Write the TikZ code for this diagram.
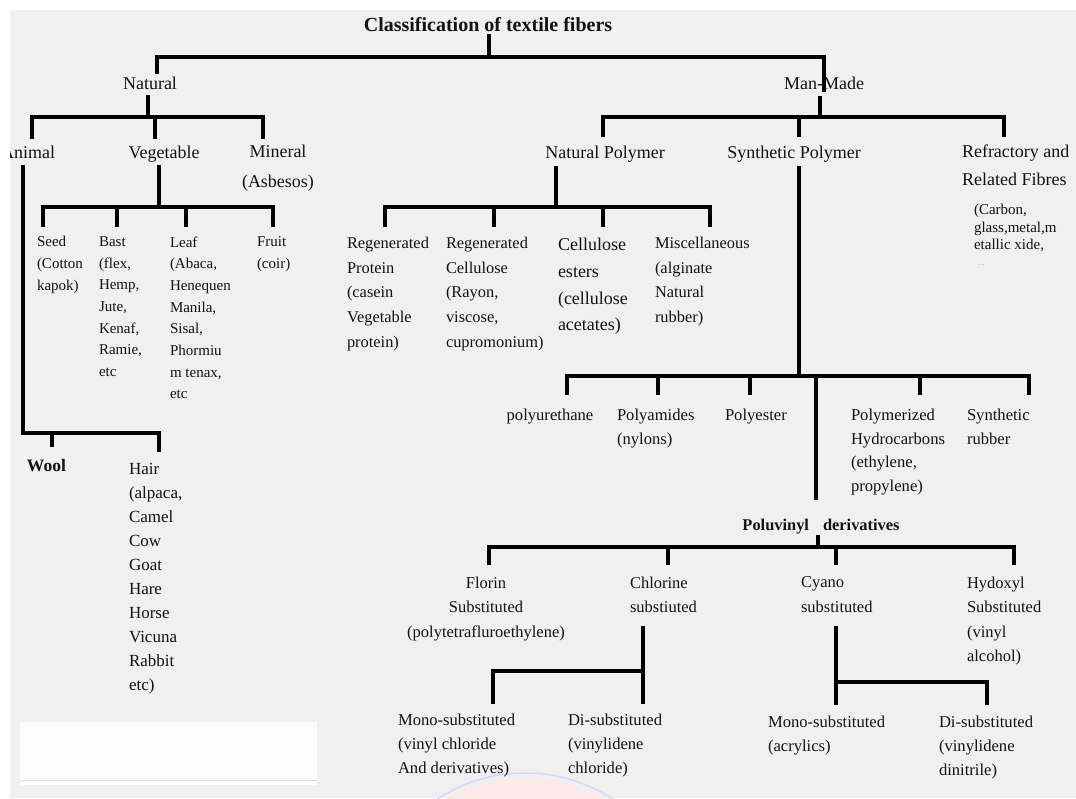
\documentclass[tikz,border=0pt]{standalone}
\usepackage{fontspec}
\setmainfont{Liberation Serif}
\definecolor{bg}{RGB}{240,240,240}
\definecolor{ink}{RGB}{18,18,18}
\newcommand{\myfs}[2]{\fontsize{#1}{#2}\selectfont}
\tikzset{
  conn/.style={draw=black, line width=3.2pt, line cap=rect, line join=miter},
  lbl/.style={inner sep=0pt, outer sep=0pt, text=ink, align=left, anchor=north west},
  one/.style={inner sep=0pt, outer sep=0pt, text=ink, anchor=base},
  big/.style={font=\myfs{18}{22}},
  vegf/.style={font=\myfs{15}{21.7}},
  npf/.style={font=\myfs{16.4}{24.75}},
  synf/.style={font=\myfs{16.6}{23.5}},
  pvf/.style={font=\myfs{16.5}{24.5}},
  botf/.style={font=\myfs{16.6}{24}},
}
\begin{document}
\begin{tikzpicture}[x=1pt,y=-1pt]
\useasboundingbox (0,0) rectangle (1076,798);
\fill[white] (0,0) rectangle (1076,798);
\fill[bg] (10,10) rectangle (1076,798);
% faint watermark
\begin{scope}
\clip (10,10) rectangle (1076,798);
\fill[red!9] (525,934) circle (156);
\draw[blue!16, line width=1.5pt] (525,934) circle (161);
\end{scope}
% white band bottom left
\fill[white, opacity=0.85] (20,722) rectangle (317,785);
\draw[black!14, line width=1pt] (20,780) -- (317,780);

% ---------- nodes ----------
\node[one, font=\bfseries\myfs{20}{24}] (title) at (488,31) {Classification of textile fibers};
\node[one, big] (natural) at (150,89) {Natural};
\node[one, big] (manmade) at (824,89) {Man-Made};
\node[one, big, anchor=base east] (animal) at (55,158) {Animal};
\node[one, big] (vegetable) at (164,158) {Vegetable};
\node[lbl, align=center, anchor=north, font=\myfs{18}{30}] (mineral) at (278,145) {Mineral\\(Asbesos)};
\node[one, big] (natpoly) at (605,158) {Natural Polymer};
\node[one, big] (synpoly) at (794,158) {Synthetic Polymer};
\node[lbl, font=\myfs{18}{28}] (refr) at (962,145) {Refractory and\\Related Fibres};
\node[lbl, font=\myfs{15}{17.5}] (refrsub) at (974,204.5) {(Carbon,\\glass,metal,m\\etallic xide,};
\node[one, font=\myfs{9}{11}, text=black!30] (refrdots) at (981,265) {...};

% vegetable children
\node[lbl, vegf] (seed) at (37,236.5) {Seed\\(Cotton\\kapok)};
\node[lbl, vegf] (bast) at (99,236.5) {Bast\\(flex,\\Hemp,\\Jute,\\Kenaf,\\Ramie,\\etc};
\node[lbl, vegf] (leaf) at (170,236.5) {Leaf\\(Abaca,\\Henequen\\Manila,\\Sisal,\\Phormiu\\m tenax,\\etc};
\node[lbl, vegf] (fruit) at (257,236.5) {Fruit\\(coir)};

% animal children
\node[one, anchor=base west, font=\bfseries\myfs{17.5}{21}] (wool) at (27,471) {Wool};
\node[lbl, font=\myfs{17}{23.9}] (hair) at (129,463.7) {Hair\\(alpaca,\\Camel\\Cow\\Goat\\Hare\\Horse\\Vicuna\\Rabbit\\etc)};

% natural polymer children
\node[lbl, npf] (rprot) at (347,237) {Regenerated\\Protein\\(casein\\Vegetable\\protein)};
\node[lbl, npf] (rcell) at (446,237) {Regenerated\\Cellulose\\(Rayon,\\viscose,\\cupromonium)};
\node[lbl, font=\myfs{18}{26.7}] (cest) at (558,238.3) {Cellulose\\esters\\(cellulose\\acetates)};
\node[lbl, npf] (misc) at (655,237) {Miscellaneous\\(alginate\\Natural\\rubber)};

% synthetic polymer children
\node[one, synf] (pu) at (550,420.5) {polyurethane};
\node[lbl, synf] (pa) at (617,409) {Polyamides\\(nylons)};
\node[one, synf, anchor=base west] (pe) at (725,420.5) {Polyester};
\node[lbl, synf] (ph) at (851,409) {Polymerized\\Hydrocarbons\\(ethylene,\\propylene)};
\node[lbl, synf] (sr) at (967,409) {Synthetic\\rubber};
\node[one, font=\bfseries\myfs{16.4}{20}] (pv) at (821,530.5) {Poluvinyl\hspace{14pt}derivatives};

% polyvinyl children
\node[lbl, pvf, align=center, anchor=north] (florin) at (486,577) {Florin\\Substituted\\(polytetrafluroethylene)};
\node[lbl, pvf] (chlor) at (630,577) {Chlorine\\substiuted};
\node[lbl, pvf] (cyano) at (801,577) {Cyano\\substituted};
\node[lbl, pvf] (hydox) at (967,577) {Hydoxyl\\Substituted\\(vinyl\\alcohol)};

% bottom row
\node[lbl, botf] (cmono) at (398,714) {Mono-substituted\\(vinyl chloride\\And derivatives)};
\node[lbl, botf] (cdi) at (568,714) {Di-substituted\\(vinylidene\\chloride)};
\node[lbl, botf] (ymono) at (768,716) {Mono-substituted\\(acrylics)};
\node[lbl, botf] (ydi) at (939,716) {Di-substituted\\(vinylidene\\dinitrile)};

% clip the left margin (Animal is cut in the reference)
\fill[white] (0,0) rectangle (10,798);

% ---------- connector coordinates ----------
\coordinate (t0) at (489,36);   \coordinate (t1) at (489,57);
\coordinate (tl) at (157,57);   \coordinate (tl2) at (157,72);
\coordinate (tr) at (824,57);   \coordinate (tr2) at (824,90);
% natural
\coordinate (n0) at (148,97);   \coordinate (n1) at (148,117);
\coordinate (nA) at (32,117);   \coordinate (nA2) at (32,137);
\coordinate (nV) at (155,117);  \coordinate (nV2) at (155,137);
\coordinate (nM) at (263,117);  \coordinate (nM2) at (263,137);
% animal
\coordinate (a0) at (23,167);   \coordinate (a1) at (23,433);
\coordinate (aH) at (159,433);  \coordinate (aH2) at (159,450);
\coordinate (aW) at (52,433);   \coordinate (aW2) at (52,445);
% vegetable
\coordinate (v0) at (159,167);  \coordinate (v1) at (159,207);
\coordinate (vS) at (43,207);   \coordinate (vS2) at (43,225);
\coordinate (vB) at (117,207);  \coordinate (vB2) at (117,225);
\coordinate (vL) at (186,207);  \coordinate (vL2) at (186,225);
\coordinate (vF) at (273,207);  \coordinate (vF2) at (273,225);
% man-made
\coordinate (m0) at (820,98);   \coordinate (m1) at (820,117);
\coordinate (mN) at (603,117);  \coordinate (mN2) at (603,135);
\coordinate (mS) at (799,117);  \coordinate (mS2) at (799,135);
\coordinate (mR) at (1004,117); \coordinate (mR2) at (1004,135);
% natural polymer
\coordinate (p0) at (556,168);  \coordinate (p1) at (556,207);
\coordinate (pP) at (385,207);  \coordinate (pP2) at (385,225);
\coordinate (pC) at (494,207);  \coordinate (pC2) at (494,225);
\coordinate (pE) at (603,207);  \coordinate (pE2) at (603,225);
\coordinate (pM) at (710,207);  \coordinate (pM2) at (710,225);
% synthetic polymer
\coordinate (s0) at (799,168);  \coordinate (s1) at (799,376);
\coordinate (sU) at (567,376);  \coordinate (sU2) at (567,393);
\coordinate (sA) at (658,376);  \coordinate (sA2) at (658,393);
\coordinate (sE) at (750,376);  \coordinate (sE2) at (750,393);
\coordinate (sV) at (816,376);  \coordinate (sV2) at (816,498);
\coordinate (sH) at (920,376);  \coordinate (sH2) at (920,393);
\coordinate (sR) at (1029,376); \coordinate (sR2) at (1029,393);
% polyvinyl
\coordinate (q0) at (818,537);  \coordinate (q1) at (818,547);
\coordinate (qF) at (489,547);  \coordinate (qF2) at (489,563);
\coordinate (qC) at (668,547);  \coordinate (qC2) at (668,563);
\coordinate (qY) at (836,547);  \coordinate (qY2) at (836,563);
\coordinate (qH) at (1014,547); \coordinate (qH2) at (1014,563);
% chlorine
\coordinate (c0) at (643,628);  \coordinate (c1) at (643,671);  \coordinate (cD) at (643,702);
\coordinate (cM) at (493,671);  \coordinate (cM2) at (493,702);
% cyano
\coordinate (y0) at (836,628);  \coordinate (y1) at (836,682);  \coordinate (yM) at (836,703);
\coordinate (yD) at (987,682);  \coordinate (yD2) at (987,703);

% ---------- connectors ----------
\draw[conn] (t0) -- (t1);
\draw[conn] (tl2) -- (tl) -- (tr) -- (tr2);
\draw[conn] (n0) -- (n1);
\draw[conn] (nA2) -- (nA) -- (nM) -- (nM2);
\draw[conn] (nV) -- (nV2);
\draw[conn] (a0) -- (a1) -- (aH) -- (aH2);
\draw[conn] (aW) -- (aW2);
\draw[conn] (v0) -- (v1);
\draw[conn] (vS2) -- (vS) -- (vF) -- (vF2);
\draw[conn] (vB) -- (vB2);
\draw[conn] (vL) -- (vL2);
\draw[conn] (m0) -- (m1);
\draw[conn] (mN2) -- (mN) -- (mR) -- (mR2);
\draw[conn] (mS) -- (mS2);
\draw[conn] (p0) -- (p1);
\draw[conn] (pP2) -- (pP) -- (pM) -- (pM2);
\draw[conn] (pC) -- (pC2);
\draw[conn] (pE) -- (pE2);
\draw[conn] (s0) -- (s1);
\draw[conn] (sU2) -- (sU) -- (sR) -- (sR2);
\draw[conn] (sA) -- (sA2);
\draw[conn] (sE) -- (sE2);
\draw[conn] (sV) -- (sV2);
\draw[conn] (sH) -- (sH2);
\draw[conn] (q0) -- (q1);
\draw[conn] (qF2) -- (qF) -- (qH) -- (qH2);
\draw[conn] (qC) -- (qC2);
\draw[conn] (qY) -- (qY2);
\draw[conn] (c0) -- (cD);
\draw[conn] (c1) -- (cM) -- (cM2);
\draw[conn] (y0) -- (yM);
\draw[conn] (y1) -- (yD) -- (yD2);
\end{tikzpicture}
\end{document}
